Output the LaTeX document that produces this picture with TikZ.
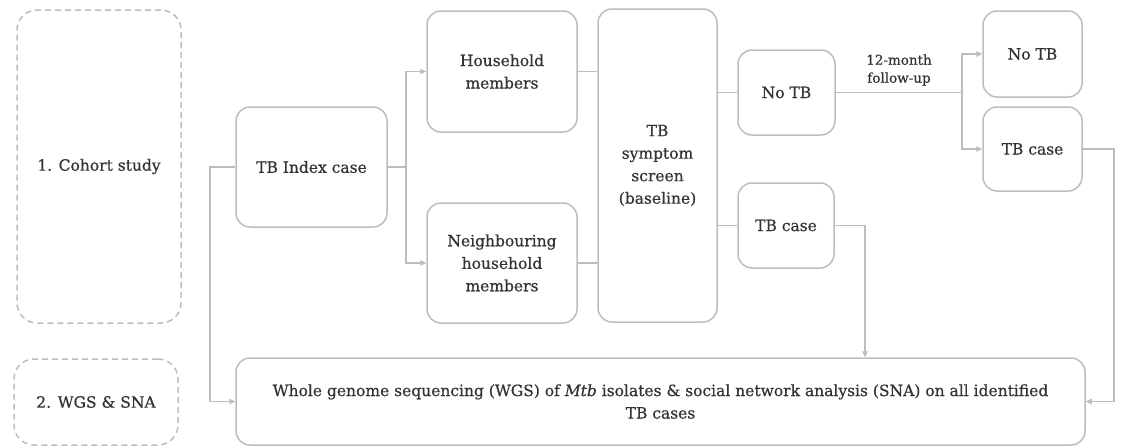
\documentclass[tikz,border=0pt]{standalone}
\usepackage{fontspec}
\setmainfont{DejaVu Serif}
\newfontfamily\boxfont{DejaVu Serif}[FakeBold=0.6, ItalicFeatures={FakeBold=0.6}]
\usepackage{tikz}
\usetikzlibrary{arrows.meta, positioning, calc}
\definecolor{boxgray}{HTML}{BDBDBD}
\definecolor{textgray}{HTML}{333333}
\tikzstyle{stage} = [
  rectangle, draw=boxgray, line width=1.5pt, dash pattern=on 6pt off 4pt,
  rounded corners=20pt, text centered, text=textgray,
  font=\boxfont\fontsize{15.5}{22}\selectfont
]
\tikzstyle{stepbox} = [
  rectangle, draw=boxgray, line width=1.5pt, rounded corners=14pt,
  align=center, text=textgray, inner sep=0pt,
  font=\boxfont\fontsize{15.5}{22.5}\selectfont
]
\tikzstyle{link} = [draw=boxgray, line width=1.5pt]
\tikzstyle{arrow} = [link, -{Triangle[length=6pt, width=5.5pt]}]

\begin{document}
\begin{tikzpicture}[x=1pt, y=-1pt]
  \useasboundingbox (0,0) rectangle (1121,447);

  % study stages
  \node[stage, minimum width=164pt, minimum height=313pt] (cohort) at (99,166.5) {1. Cohort study};
  \node[stage, minimum width=164pt, minimum height=86pt] (wgslab) at (96,402) {2. WGS \& SNA};

  % cohort flow
  \node[stepbox, minimum width=151pt, minimum height=120pt] (index) at (311.5,167) {TB Index case};
  \node[stepbox, minimum width=150pt, minimum height=121pt] (house) at (502,71.5) {Household\\members};
  \node[stepbox, minimum width=150pt, minimum height=120pt] (neigh) at (502,263) {Neighbouring\\household\\members};
  \node[stepbox, minimum width=119pt, minimum height=313pt] (screen) at (657.5,165.5) {TB\\symptom\\screen\\(baseline)};
  \node[stepbox, minimum width=97pt, minimum height=85pt] (notb1) at (786.5,92.5) {No TB};
  \node[stepbox, minimum width=96pt, minimum height=85pt] (case1) at (786,225.5) {TB case};
  \node[stepbox, minimum width=99pt, minimum height=86pt] (notb2) at (1032.5,54) {No TB};
  \node[stepbox, minimum width=99pt, minimum height=84pt] (case2) at (1032.5,149) {TB case};

  \node[stepbox, minimum width=849pt, minimum height=87pt] (wgs) at (660.5,401.5)
    {Whole genome sequencing (WGS) of \textit{Mtb} isolates \& social network analysis (SNA) on all identified\\TB cases};

  % branch points
  \coordinate (split1) at (406,167);
  \coordinate (split2) at (962,92.5);
  \coordinate (lft) at (210,0);
  \coordinate (drop1) at (865,0);
  \coordinate (ret) at (1114,0);

  \draw[link] (index.east) -- (split1);
  \draw[arrow] (split1) |- (house.west);
  \draw[arrow] (split1) |- (neigh.west);
  \draw[link] (house.east) -- (house.east -| screen.west);
  \draw[link] (neigh.east) -- (neigh.east -| screen.west);
  \draw[link] (notb1.west -| screen.east) -- (notb1.west);
  \draw[link] (case1.west -| screen.east) -- (case1.west);

  \draw[link] (notb1.east) -- (split2);
  \node[text=textgray, align=center, font=\boxfont\fontsize{13.5}{18}\selectfont] (fup) at (899,70) {12-month\\follow-up};
  \draw[arrow] (split2) |- (notb2.west);
  \draw[arrow] (split2) |- (case2.west);

  \draw[arrow] (index.west) -| (lft |- wgs.west) -- (wgs.west);
  \draw[arrow] (case1.east) -| (drop1 |- wgs.north);
  \draw[arrow] (case2.east) -| (ret |- wgs.east) -- (wgs.east);

\end{tikzpicture}
\end{document}
